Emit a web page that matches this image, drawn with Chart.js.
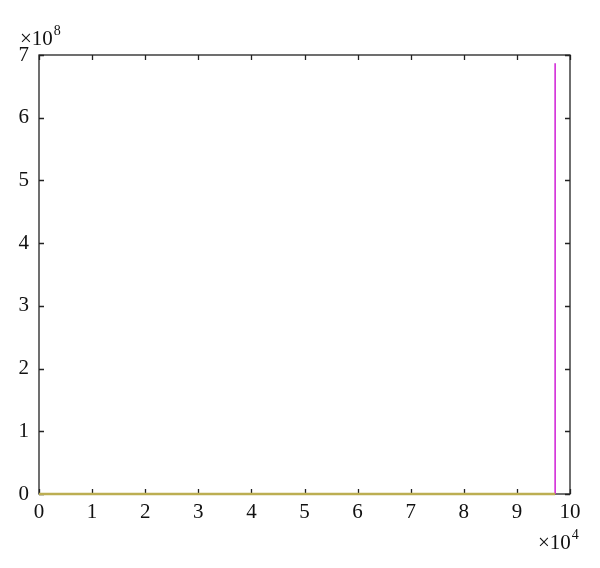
<!DOCTYPE html>
<html>
<head>
<meta charset="utf-8">
<script src="https://cdn.jsdelivr.net/npm/chart.js@4/dist/chart.umd.min.js"></script>
<style>
  html, body { margin: 0; padding: 0; background: #ffffff; }
  #wrap { width: 600px; height: 568px; position: relative; }
</style>
</head>
<body>
<div id="wrap"><canvas id="c" width="600" height="568"></canvas></div>
<script>
// Data (x in units of 10^4, y in units of 10^8)
const baseX = [0, 9.72];
const baseY = [0, 0];
const spikeX = [9.72, 9.72];
const spikeY = [0, 6.87];
const xTicks = [0, 1, 2, 3, 4, 5, 6, 7, 8, 9, 10];
const yTicks = [0, 1, 2, 3, 4, 5, 6, 7];
const xExponent = '4';
const yExponent = '8';

const FONT = '"Liberation Serif", "Times New Roman", serif';

const toPts = (xs, ys) => xs.map((x, i) => ({ x: x, y: ys[i] }));

const frame = {
  id: 'frame',
  beforeDatasetsDraw(chart) {
    const { ctx, chartArea: a, scales } = chart;
    const xs = scales.x, ys = scales.y;
    ctx.save();
    ctx.strokeStyle = '#222';
    ctx.lineWidth = 1.3;
    ctx.strokeRect(a.left, a.top, a.right - a.left, a.bottom - a.top);
    const L = 5;
    ctx.beginPath();
    xTicks.forEach(v => {
      const px = Math.round(xs.getPixelForValue(v)) + 0.5;
      ctx.moveTo(px, a.bottom); ctx.lineTo(px, a.bottom - L);
      ctx.moveTo(px, a.top); ctx.lineTo(px, a.top + L);
    });
    yTicks.forEach(v => {
      const py = Math.round(ys.getPixelForValue(v)) + 0.5;
      ctx.moveTo(a.left, py); ctx.lineTo(a.left + L, py);
      ctx.moveTo(a.right, py); ctx.lineTo(a.right - L, py);
    });
    ctx.stroke();

    // exponent labels
    ctx.fillStyle = '#111';
    ctx.textBaseline = 'alphabetic';
    ctx.textAlign = 'left';
    ctx.font = '21px ' + FONT;
    let x0 = 20, y0 = 45;
    ctx.fillText('\u00d710', x0, y0);
    let w = ctx.measureText('\u00d710').width;
    ctx.font = '14px ' + FONT;
    ctx.fillText(yExponent, x0 + w + 1, y0 - 10);

    ctx.font = '21px ' + FONT;
    x0 = 538; y0 = 549;
    ctx.fillText('\u00d710', x0, y0);
    w = ctx.measureText('\u00d710').width;
    ctx.font = '14px ' + FONT;
    ctx.fillText(xExponent, x0 + w + 1, y0 - 10);
    ctx.restore();
  }
};

new Chart(document.getElementById('c'), {
  type: 'scatter',
  data: {
    datasets: [
      {
        data: toPts(baseX, baseY),
        showLine: true,
        borderColor: '#bcae52',
        borderWidth: 2.5,
        pointRadius: 0,
        tension: 0,
        clip: false
      },
      {
        data: toPts(spikeX, spikeY),
        showLine: true,
        borderColor: '#d22ad8',
        borderWidth: 1.6,
        pointRadius: 0,
        tension: 0,
        clip: false
      }
    ]
  },
  options: {
    responsive: false,
    animation: false,
    layout: { padding: { left: 0, right: 30, top: 55, bottom: 0 } },
    plugins: { legend: { display: false }, tooltip: { enabled: false } },
    scales: {
      x: {
        type: 'linear',
        min: 0, max: 10,
        afterBuildTicks(s) { s.ticks = xTicks.map(v => ({ value: v })); },
        afterFit(s) { s.height = 74; },
        grid: { display: false, drawTicks: false },
        border: { display: false },
        ticks: {
          color: '#111',
          font: { family: FONT, size: 21 },
          padding: 6,
          maxRotation: 0,
          autoSkip: false
        }
      },
      y: {
        type: 'linear',
        min: 0, max: 7,
        afterBuildTicks(s) { s.ticks = yTicks.map(v => ({ value: v })); },
        afterFit(s) { s.width = 39; },
        grid: { display: false, drawTicks: false },
        border: { display: false },
        ticks: {
          color: '#111',
          font: { family: FONT, size: 21 },
          padding: 10,
          autoSkip: false
        }
      }
    }
  },
  plugins: [frame]
});
</script>
</body>
</html>
